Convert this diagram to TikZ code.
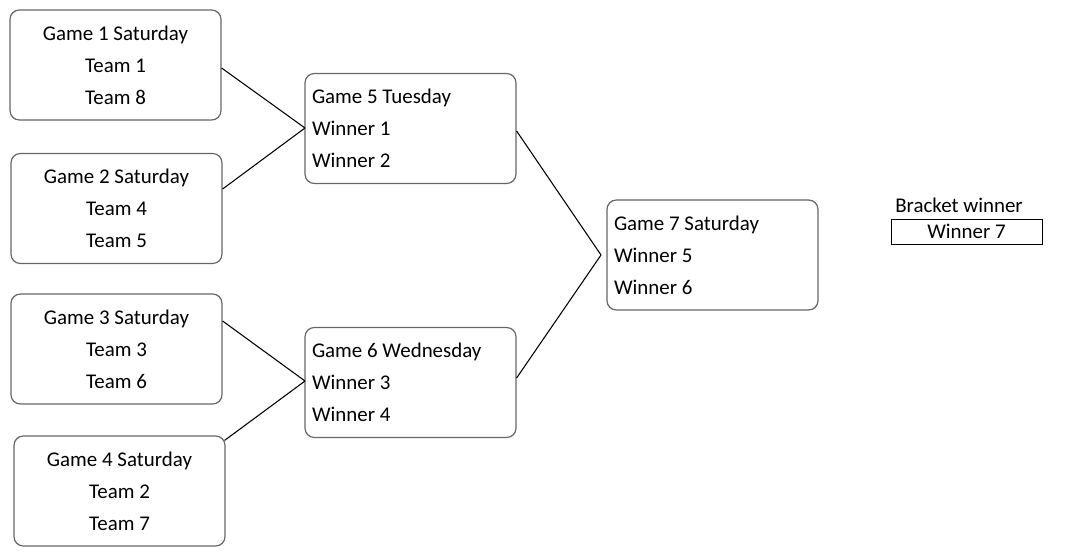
\documentclass[tikz,border=0pt]{standalone}
\usepackage{fontspec}
\setmainfont{Carlito}
\usepackage{tikz}
\usetikzlibrary{calc}
\tikzset{
    GC/.style ={rectangle,rounded corners=7pt,draw=black!60,line width=0.9pt,minimum width=158.25pt,minimum height=82.5pt,align=center,font=\fontsize{15.7}{24}\selectfont},
    GL/.style ={GC,align=flush left,text width=147.75pt,inner xsep=5.25pt},
    BW/.style ={rectangle,draw,line width=0.7pt,minimum width=113.25pt,minimum height=18.75pt,inner sep=0pt,font=\fontsize{15.7}{18}\selectfont},
    LN/.style ={line width=0.8pt}}
\begin{document}
\begin{tikzpicture}[x=0.75pt,y=-0.75pt]
        \useasboundingbox (0,0) rectangle (1072,553);
        \node[GC] (1) at(115.5,65){Game 1 Saturday\\Team 1\\Team 8};
        \node[GC] (2) at(116.5,208.5){Game 2 Saturday\\Team 4\\Team 5};
        \node[GC] (3) at(116.5,349){Game 3 Saturday\\Team 3\\Team 6};
        \node[GC] (4) at(119.5,491){Game 4 Saturday\\Team 2\\Team 7};
        \node[GL] (5) at(410.5,128.5){Game 5 Tuesday\\Winner 1\\Winner 2};
        \node[GL] (6) at(410.5,382.5){Game 6 Wednesday\\Winner 3\\Winner 4};
        \node[GL] (7) at(712.5,255){Game 7 Saturday\\Winner 5\\Winner 6};
        \node[BW] (8) at(966.5,231.5){Winner 7};
        \node[font=\fontsize{15.7}{18}\selectfont,inner sep=0pt] (9) at(959,205){Bracket winner};
        \coordinate (m5) at(305,128);
        \coordinate (m6) at(305,381);
        \coordinate (m7) at(601,255);
        \draw[LN] ($(1.east)+(0,3)$) --(m5);
        \draw[LN] ($(2.east)+(0,-19.5)$) --(m5);
        \draw[LN] ($(3.east)+(0,-28)$) --(m6);
        \draw[LN] ($(4.north east)+(-1,5)$) --(m6);
        \draw[LN] ($(5.east)+(0,2.5)$) --(m7);
        \draw[LN] ($(6.east)+(0,-4.5)$) --(m7);
    \end{tikzpicture}
\end{document}
